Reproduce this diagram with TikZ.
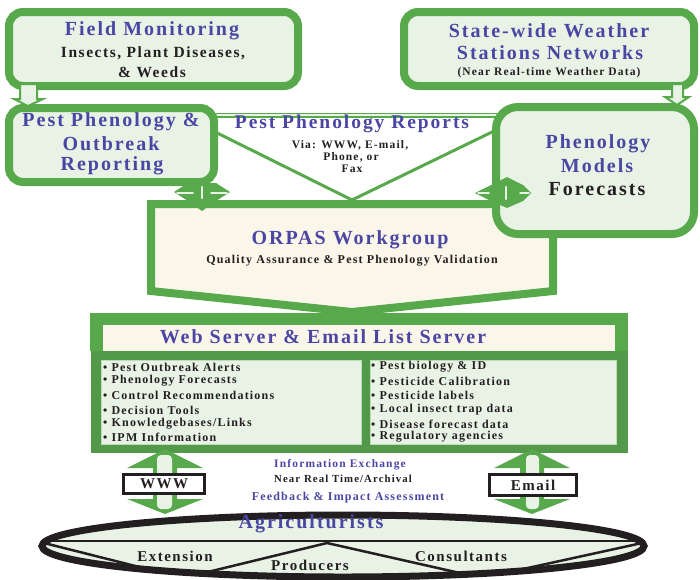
\documentclass[tikz,border=0pt]{standalone}
\usepackage{fontspec}
\setmainfont{Liberation Serif}[LetterSpace=10]
\definecolor{grn}{HTML}{58A84C}
\definecolor{dgrn}{HTML}{52994A}
\definecolor{lgrn}{HTML}{E8F3E6}
\definecolor{crm}{HTML}{FAF6E9}
\definecolor{blu}{HTML}{4B46A3}
\definecolor{txt}{HTML}{231F20}
\newcommand{\fsz}[1]{\bfseries\fontsize{#1}{#1}\selectfont}
\tikzset{
  box/.style={draw=grn, line width=8, fill=lgrn, rounded corners=14},
  ttl/.style={text=blu, font=\fsz{20}, inner sep=0},
  subt/.style={text=txt, font=\fsz{15}, inner sep=0},
  smallb/.style={text=blu, font=\fsz{11.5}, inner sep=0},
  smallk/.style={text=txt, font=\fsz{11.5}, inner sep=0},
  item/.style={text=txt, font=\fsz{12}, inner sep=0, anchor=west},
  lite/.style={draw=lgrn, line cap=round},
  dbl/.style={fill=grn},
  tag/.style={draw=txt, line width=3, fill=white, inner sep=0, text=txt, font=\fsz{15}},
}
\begin{document}
\begin{tikzpicture}[x=1pt,y=-1pt]
\useasboundingbox (0,0) rectangle (700,579);

% Pest Phenology Reports triangle
\path[fill=white] (181,115) -- (527,115) -- (352,200) -- cycle;
\draw[grn, line width=3, line join=round] (181,115) -- (352,200) -- (527,115);
\draw[grn, line width=5] (181,115) -- (527,115);
\draw[lgrn, line width=1.5] (181,115) -- (527,115);

% ORPAS
\draw[grn, line width=8, fill=crm] (151,204) -- (553,204) -- (553,291) -- (352,312) -- (151,291) -- cycle;

% Web server
\fill[grn] (90,313) rectangle (628,351);
\fill[dgrn] (91,351) rectangle (628,453);
\fill[crm] (103,325) rectangle (615,351);
\draw[lgrn!70!grn, line width=1, fill=lgrn] (101,360) rectangle (361,444);
\draw[lgrn!70!grn, line width=1, fill=lgrn] (370,360) rectangle (616,444);

% boxes
\draw[box] (9,12) rectangle (298,86);
\draw[box] (404,12) rectangle (694,86);
\draw[box] (9,108) rectangle (214,182);
\draw[box, rounded corners=22] (496,107) rectangle (694,234);

% small down arrows
\draw[grn, line width=2, fill=lgrn] (20,84) -- (37,84) -- (37,99) -- (43,99) -- (28,106) -- (14,99) -- (20,99) -- cycle;
\draw[grn, line width=2, fill=lgrn] (672,84) -- (683,84) -- (683,97) -- (689,97) -- (677,105) -- (665,97) -- (672,97) -- cycle;

% double arrows into ORPAS
\fill[dbl] (174,192) -- (188,183) -- (216,183) -- (230,192) -- (216,201) -- (202,211) -- (188,201) -- cycle;
\draw[lite, line width=2.5] (202,187) -- (202,198);
\draw[lite, line width=1.5] (177,193) -- (193,193);
\draw[lite, line width=1.5] (211,193) -- (227,193);
\fill[dbl] (475,193) -- (491,185) -- (507,177) -- (523,185) -- (531,193) -- (523,201) -- (507,208) -- (491,201) -- cycle;
\draw[lite, line width=2.5] (506,187) -- (506,199);
\draw[lite, line width=1.5] (478,193) -- (489,193);
\draw[lite, line width=1.5] (520,193) -- (529,193);

% WWW arrow
\fill[dbl] (165,449) -- (203,468) -- (177,468) -- (177,499) -- (203,499) -- (165,514) -- (127,499) -- (153,499) -- (153,468) -- (127,468) -- cycle;
\fill[lgrn, rounded corners=4] (157,455) rectangle (172,509);
\node[tag, minimum width=81, minimum height=19] (www) at (164,484) {WWW};
% Email arrow
\fill[dbl] (532,449) -- (570,468) -- (544,468) -- (544,499) -- (570,499) -- (532,514) -- (494,499) -- (520,499) -- (520,468) -- (494,468) -- cycle;
\fill[lgrn, rounded corners=4] (526,455) rectangle (539,509);
\node[tag, minimum width=87, minimum height=21] (email) at (533,485) {Email};

% Agriculturists ellipse
\fill[lgrn] (343,546) ellipse [x radius=301, y radius=31];
\begin{scope}
\clip (343,546) ellipse [x radius=300, y radius=30];
\draw[txt, line width=2.5] (40,541) -- (646,541);
\draw[txt, line width=2.5] (44,543) -- (183,578) -- (327,543) -- (482,578) -- (642,543);
\end{scope}
\draw[txt, line width=7] (343,546) ellipse [x radius=301, y radius=31];

% texts
\node[ttl] (fm) at (152,31) {Field Monitoring};
\node[subt, font=\fsz{15.5}] (fm1) at (153,53) {Insects, Plant Diseases,};
\node[subt, font=\fsz{15.5}] (fm2) at (152,72) {\& Weeds};

\node[ttl] (sw1) at (549,31) {State-wide Weather};
\node[ttl] (sw2) at (550,53) {Stations Networks};
\node[smallk] (sw3) at (549,73) {(Near Real-time Weather Data)};

\node[ttl] (pp1) at (111,122) {Pest Phenology \&};
\node[ttl] (pp2) at (111,144) {Outbreak};
\node[ttl] (pp3) at (112,166) {Reporting};

\node[ttl, font=\fsz{19.5}] (rep) at (352,124) {Pest Phenology Reports};
\node[smallk] (rep1) at (350,145) {Via: WWW, E-mail,};
\node[smallk] (rep2) at (351,157) {Phone, or};
\node[smallk] (rep3) at (352,169) {Fax};

\node[ttl] (pm1) at (598,144) {Phenology};
\node[ttl] (pm2) at (597,166) {Models};
\node[ttl, text=txt] (pm3) at (597,189) {Forecasts};

\node[ttl] (orp) at (350,240) {ORPAS Workgroup};
\node[smallk, font=\fsz{12}] (orp1) at (352,261) {Quality Assurance \& Pest Phenology Validation};

\node[ttl, font=\fsz{20}] (ws) at (323,337) {Web Server \& Email List Server};

\node[item] (l1) at (103,367) {• Pest Outbreak Alerts};
\node[item] (l2) at (103,381) {• Phenology Forecasts};
\node[item] (l3) at (103,395) {• Control Recommendations};
\node[item] (l4) at (103,410) {• Decision Tools};
\node[item] (l5) at (103,424) {• Knowledgebases/Links};
\node[item] (l6) at (103,437) {• IPM Information};
\node[item] (r1) at (371,367) {• Pest biology \& ID};
\node[item] (r2) at (371,381) {• Pesticide Calibration};
\node[item] (r3) at (371,395) {• Pesticide labels};
\node[item] (r4) at (371,410) {• Local insect trap data};
\node[item] (r5) at (371,424) {• Disease forecast data};
\node[item] (r6) at (371,437) {• Regulatory agencies};

\node[smallb] (ie1) at (340,465) {Information Exchange};
\node[smallk, font=\fsz{10.8}] (ie2) at (343,479) {Near Real Time/Archival};
\node[smallb, font=\fsz{12}] (ie3) at (348,498) {Feedback \& Impact Assessment};

\node[ttl, font=\fsz{20}] (ag) at (311,524) {Agriculturists};
\node[subt] (ag1) at (175,556) {Extension};
\node[subt] (ag2) at (310,565) {Producers};
\node[subt] (ag3) at (461,556) {Consultants};
\end{tikzpicture}
\end{document}
